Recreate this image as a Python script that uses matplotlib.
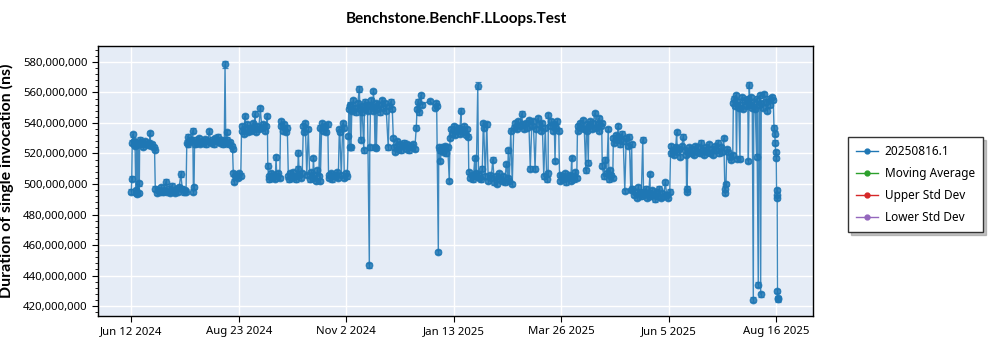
import numpy as np
import matplotlib
matplotlib.use("Agg")
import matplotlib.pyplot as plt
from matplotlib.ticker import FuncFormatter, AutoMinorLocator, FixedLocator

# --- Data (x = days since Jun 12 2024, y = duration in millions of ns) ---
jun_jul_2024_days = [0, 0.3, 0.6, 1, 1.5, 2, 2.5, 3, 3.3, 3.6, 4, 4.5, 5, 5.3, 5.6, 6, 7, 8, 9, 10,
                     11, 12, 12.5, 13, 14, 15, 15.5,
                     16, 17, 18, 19, 20, 21, 22, 23, 24, 25, 26, 27, 28, 29, 30, 31, 32, 33, 34,
                     35, 36, 36.5]
jun_jul_2024_vals = [495, 503.5, 527, 532.5, 526, 528, 525, 496, 494, 527, 493.5, 526, 500.5, 494,
                     529, 526, 527.5, 524.5, 528, 526, 525.5, 527, 533.5, 525, 526, 524, 522.5,
                     497, 494, 496, 495, 498, 494.5, 496, 501.5, 495, 497, 494, 499, 495.5, 494,
                     496.5, 495, 498, 506.5, 497, 494.5, 496, 495]

jul_aug_2024_days = [37, 37.5, 38, 39, 40, 41, 41.4, 41.8, 42.2, 43, 44, 45, 46, 47, 48, 49, 50, 51,
                     52, 53, 54, 55, 56, 57, 58, 59, 60, 61, 62, 62.5, 63, 63.6, 64, 65, 66, 67,
                     67.5, 68, 68.5, 69, 70, 71, 72, 73]
jul_aug_2024_vals = [527, 531, 526, 528, 529, 535, 495, 498, 526, 529, 527, 530, 526.5, 528, 527,
                     529.5, 526, 528, 534.5, 527, 529, 526, 530, 528, 531, 527, 529, 526, 528,
                     578.3, 527, 534, 529, 526, 527.5, 525, 523, 507, 501.5, 505, 506, 504, 507,
                     505.5]

aug_oct_2024_days = [73.5, 74, 75, 75.8, 76, 77, 78, 79, 80, 81, 82, 82.5, 83, 84, 85, 86, 87, 88,
                     89, 90, 90.7, 91, 91.5, 92, 93, 94, 95, 96, 96.5, 97, 98, 99, 99.5, 100, 101,
                     102, 103, 104, 104.7, 105, 106, 107, 108, 109, 110, 111, 111.4, 112, 113,
                     114, 114.7, 115, 116, 117, 118, 119, 120, 121, 121.4, 122, 123, 124, 125,
                     125.8, 126, 127, 128, 129, 130, 131, 131.5, 132, 133, 134, 135, 136, 137,
                     138, 138.7, 139, 140, 141, 141.5, 142, 143, 144, 144.7, 145, 145.5]
aug_oct_2024_vals = [535, 538, 533, 544.5, 536, 539, 534, 537, 535, 540, 536, 546, 534, 538, 536,
                     549.5, 537, 539, 535, 538, 544.5, 512, 505, 503, 507, 504, 506, 503.5, 517.5,
                     505, 507, 504, 538, 541, 535, 539, 534, 537, 505, 503, 507, 504, 508, 505,
                     503, 510, 520.5, 506, 504, 507, 538, 534, 540, 506, 536, 503, 508, 504, 517,
                     506, 502, 509, 505, 537, 502, 540, 535, 538, 534, 539, 506, 504, 507, 503,
                     506, 505, 508, 504, 536, 534, 506, 540, 537, 504, 507, 505, 531.5, 549, 551]

nov_dec_2024_days = [145.8, 146, 146.5, 147, 148, 149, 150, 151, 152, 152.5, 153, 153.5, 154, 155,
                     155.5, 156, 157, 157.5, 158.7, 159, 159.5, 160, 161, 161.4, 162, 162.5, 163,
                     163.4, 164, 165, 166, 167, 168, 169, 170, 171.3, 172, 173, 174, 174.7, 175,
                     176, 177, 178, 179, 180, 181, 182, 183, 184, 185, 186, 187, 188, 189, 190,
                     190.5, 191, 192, 193, 194, 199, 202.5, 203, 203.6, 204.7, 205, 205.5, 206,
                     207, 208, 209, 210, 211, 212]
nov_dec_2024_vals = [524, 552, 524, 548, 555, 550, 547, 553, 562, 549, 529, 551, 547, 522, 554,
                     549, 552, 548, 446.7, 524, 551, 555, 548, 561, 550, 524, 553, 523.5, 549, 552,
                     547, 555, 550, 553, 548, 524, 551, 554, 549, 530, 524, 521, 528, 523, 526,
                     522, 525, 527, 523, 526, 522, 525, 524, 526, 523, 537, 549, 554, 547, 558,
                     552, 554.5, 550, 553, 551, 455.4, 524, 522, 515, 524, 521, 525, 520, 524, 502]

dec_2024_mar_2025_days = [212.5, 213, 214, 215, 216, 217, 218, 219, 219.8, 220, 221, 222, 223, 224,
                          224.7, 225, 226, 227, 228, 229, 229.5, 230, 231, 231.5, 232, 233, 234,
                          234.7, 235, 236, 237, 238, 239, 240, 241, 242, 243, 244, 245, 246, 247,
                          248, 249, 250, 251, 251.3, 252, 253, 254, 255, 256, 257, 258, 259, 260.2,
                          261, 262, 263, 264, 265, 266, 267, 268, 269.2, 270, 271, 272, 273, 274,
                          275, 276, 277, 277.9, 278, 279, 280, 281, 282, 282.5, 283, 284, 285,
                          285.5, 286, 287, 288]
dec_2024_mar_2025_vals = [530, 536, 533, 538, 532, 535, 537, 533, 548, 536, 534, 538, 532, 536,
                          531, 508, 504, 506, 503, 517, 505, 507, 564.5, 504, 506, 503, 510, 540,
                          537, 505, 539, 502, 506, 504, 516, 501, 505, 500, 507, 503, 502, 505,
                          501, 513, 504, 522, 502, 535, 500, 537, 540, 536, 541, 538, 546, 539,
                          536, 540, 537, 542, 510, 538, 541, 510, 536, 543, 539, 535, 540, 505,
                          537, 503, 507, 545, 538, 541, 535, 539, 515, 537, 541, 535, 506, 502,
                          505, 503]

mar_jun_2025_days = [289, 290, 291, 292, 293, 293.6, 294, 295, 296, 297, 297.5, 298, 299, 300, 301,
                     302, 303, 303.5, 304, 304.7, 305, 306, 307, 308, 309, 310, 311, 311.5, 312,
                     313, 313.6, 314, 315, 316, 317, 318, 318.5, 319, 320, 321, 321.4, 322, 323,
                     324, 324.7, 325, 326, 327, 328, 329, 330, 331, 332, 333, 333.6, 334, 335,
                     336, 337, 338, 339, 340, 341, 341.5, 342, 343, 344, 345, 345.8, 346, 347,
                     348, 349, 350, 351, 352, 353, 354, 355, 356, 357, 358, 359]
mar_jun_2025_vals = [507, 501, 504, 506, 502, 517, 505, 503, 508, 504, 538, 535, 540, 537, 542,
                     536, 509, 539, 535, 514, 538, 541, 536, 540, 546.5, 537, 539, 543, 535, 538,
                     540, 512, 505, 516, 507, 536, 503, 509, 506, 504, 530, 527, 532, 529, 538,
                     531, 526, 533, 528, 495.5, 530, 525, 531, 496, 526, 497, 493, 495, 491, 498,
                     494, 492, 529, 495, 493, 497, 491, 494, 506.5, 492, 496, 493, 490, 495, 492,
                     497, 491, 494, 492, 501, 493, 491, 495]

jun_aug_2025_days = [359.5, 360, 361, 362, 363, 363.6, 364, 365, 366, 367, 368, 369, 370, 370.2,
                     370.6, 371, 372, 373, 374, 375, 376, 377, 378, 379, 380, 381, 382, 383, 384,
                     385, 386, 387, 388, 389, 390, 391, 392, 393, 394, 395, 395.8, 396, 396.5,
                     397, 398, 399, 400, 401, 401.4, 402, 402.5, 403, 403.5, 404, 405, 405.8, 406,
                     407, 408, 409, 410, 411, 411.4, 412, 412.5, 413, 414, 414.7, 415, 416, 416.9,
                     417, 418, 418.5, 419, 419.6, 420, 421, 422, 423, 424, 425, 426, 427, 428,
                     428.5, 429, 429.3, 429.6, 430, 430.2, 430.4, 430.6, 430.8, 431, 431.2]
jun_aug_2025_vals = [520, 525, 522, 519, 524, 534, 521, 523, 518, 525, 531, 522, 519, 495, 497,
                     521, 524, 520, 523, 519, 525, 521, 524, 520, 527, 522, 519, 524, 521, 526,
                     520, 523, 519, 525, 522, 527, 520, 524, 521, 530, 494, 497, 500, 523, 521,
                     518, 516, 519, 553, 556, 551, 558, 516.5, 554, 550, 516.7, 552, 557, 549,
                     555, 551, 556, 515, 565, 552, 557, 550, 424.3, 554, 549, 518, 556, 434.1,
                     552, 558, 427.8, 553, 550, 559, 554, 548, 556, 552, 557, 555, 537, 533, 527,
                     521, 517, 496, 491, 493, 430, 425, 424.5]

# error bar half-widths (millions of ns): default plus a few larger ones
default_err = 1.5
larger_err = {62.5: 2.5, 231: 2.5, 152: 2.0, 412: 2.0, 33: 2.0}

tick_days = [0, 71.67, 143.33, 215, 286.67, 358.33, 430]
tick_labels = ["Jun 12 2024", "Aug 23 2024", "Nov 2 2024", "Jan 13 2025",
               "Mar 26 2025", "Jun 5 2025", "Aug 16 2025"]

days = np.array(jun_jul_2024_days + jul_aug_2024_days + aug_oct_2024_days + nov_dec_2024_days
                + dec_2024_mar_2025_days + mar_jun_2025_days + jun_aug_2025_days)
vals = np.array(jun_jul_2024_vals + jul_aug_2024_vals + aug_oct_2024_vals + nov_dec_2024_vals
                + dec_2024_mar_2025_vals + mar_jun_2025_vals + jun_aug_2025_vals) * 1e6
errs = np.array([larger_err.get(d, default_err) for d in days]) * 1e6

order = np.argsort(days, kind="stable")
days, vals, errs = days[order], vals[order], errs[order]

plt.rcParams['font.family'] = ['Noto Sans', 'DejaVu Sans']

fig = plt.figure(figsize=(10, 3.5), dpi=100)
ax = fig.add_axes([0.098, 0.097, 0.715, 0.772])
ax.set_facecolor('#E5ECF6')

blue = '#1f77b4'
ax.errorbar(days, vals, yerr=errs, color=blue, ecolor=blue, elinewidth=0.9, capsize=2.4,
            capthick=0.9, linewidth=1.0, marker='o', markersize=4.6, alpha=0.85, zorder=3)

# legend-only series
h_main, = ax.plot([], [], color=blue, marker='o', markersize=3.5, linewidth=1.0, label='20250816.1')
h_ma, = ax.plot([], [], color='#2ca02c', marker='o', markersize=3.5, linewidth=1.0, label='Moving Average')
h_up, = ax.plot([], [], color='#d62728', marker='o', markersize=3.5, linewidth=1.0, label='Upper Std Dev')
h_lo, = ax.plot([], [], color='#9467bd', marker='o', markersize=3.5, linewidth=1.0, label='Lower Std Dev')

ax.set_xlim(-22.2, 454.5)
ax.set_ylim(413.5e6, 590.5e6)

ax.xaxis.set_major_locator(FixedLocator(tick_days))
ax.set_xticklabels(tick_labels)
ax.yaxis.set_major_locator(FixedLocator(np.arange(420e6, 581e6, 20e6)))
ax.yaxis.set_minor_locator(AutoMinorLocator(5))
ax.yaxis.set_major_formatter(FuncFormatter(lambda v, p: f"{v:,.0f}"))

ax.grid(True, color='white', linewidth=1.0, zorder=0)
ax.set_axisbelow(True)
ax.tick_params(axis='both', labelsize=8.2, length=4, width=0.8, color='black')
ax.tick_params(axis='y', which='minor', length=2, width=0.6)
for s in ax.spines.values():
    s.set_color('black')
    s.set_linewidth(1.0)

ax.set_ylabel('Duration of single invocation (ns)', fontsize=11.5, fontweight='bold',
              family=['Lato', 'DejaVu Sans'])
ax.yaxis.set_label_coords(-0.118, 0.5)
fig.text(0.456, 0.947, 'Benchstone.BenchF.LLoops.Test', ha='center', va='center',
         fontsize=11, fontweight='bold', family=['Lato', 'DejaVu Sans'])

leg = fig.legend(handles=[h_main, h_ma, h_up, h_lo], loc='upper left',
                 bbox_to_anchor=(0.848, 0.609), borderaxespad=0, fontsize=8.5, frameon=True,
                 fancybox=False, shadow={'color': '#888888', 'ox': 2.5, 'oy': -2.5},
                 edgecolor='#333333', framealpha=1, handlelength=1.8, handletextpad=0.6,
                 borderpad=0.7, labelspacing=0.75)
leg.get_frame().set_linewidth(1.0)

fig.savefig('out.png', dpi=100)
